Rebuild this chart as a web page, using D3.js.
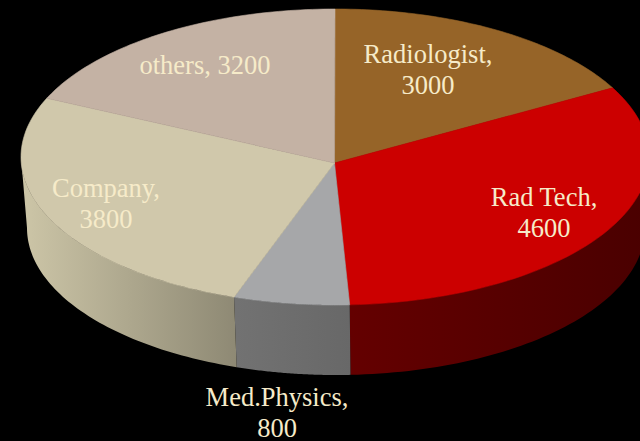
<!DOCTYPE html>
<html><head><meta charset="utf-8">
<script src="https://cdn.jsdelivr.net/npm/d3@7"></script>
<style>html,body{margin:0;background:#000;overflow:hidden}svg{display:block}</style>
</head><body><div id="c"></div>
<script>
const categories = ["Radiologist","Rad Tech","Med.Physics","Company","others"];
const values = [3000,4600,800,3800,3200];
const topColors = ["#966428","#CC0000","#A6A7A9","#D0C8AB","#C4B2A4"];
const wallStops = [["#6b4a20","#6b4a20"],["#640000","#4a0000"],["#727272","#686868"],["#cbc4a6","#8e8974"],["#c4b2a4","#c4b2a4"]];
const labelLines = [["Radiologist,","3000"],["Rad Tech,","4600"],["Med.Physics,","800"],["Company,","3800"],["others, 3200"]];
const labelAnchors = [[428,70],[544,213],[277,413],[106,204],[205,66]];

const W=640,H=441;
const top_={cx:335,cy:157,rx:314,ry:148}, bot={cx:336,cy:228,rx:309,ry:147};
const apex=[334.5,163], ecc=0.148;
const warp=t=>t-ecc*Math.sin(t);
const pt=(e,phi)=>[e.cx+e.rx*Math.sin(phi),e.cy-e.ry*Math.cos(phi)];

const svg=d3.select("#c").append("svg").attr("width",W).attr("height",H);
svg.append("rect").attr("width",W).attr("height",H).attr("fill","#000");
const defs=svg.append("defs");
const pie=d3.pie().sort(null)(values);
const line=d3.line();
const arcPts=(e,a,b)=>d3.range(0,65).map(i=>pt(e,a+(b-a)*i/64));

// side wall
pie.forEach((d,i)=>{
  const a=Math.max(warp(d.startAngle),Math.PI/2), b=Math.min(warp(d.endAngle),Math.PI*3/2);
  if(b<=a) return;
  const top=arcPts(top_,a,b), bt=arcPts(bot,a,b).reverse();
  const g=defs.append("linearGradient").attr("id","w"+i).attr("gradientUnits","userSpaceOnUse")
    .attr("x1",bot.cx+bot.rx*Math.sin(b)).attr("x2",bot.cx+bot.rx*Math.sin(a)).attr("y1",0).attr("y2",0);
  g.append("stop").attr("offset",0).attr("stop-color",wallStops[i][0]);
  g.append("stop").attr("offset",1).attr("stop-color",wallStops[i][1]);
  svg.append("path").attr("d",line(top.concat(bt))+"Z").attr("fill",`url(#w${i})`);
});
// top face
pie.forEach((d,i)=>{
  const pts=[apex].concat(arcPts(top_,warp(d.startAngle),warp(d.endAngle)));
  svg.append("path").attr("d",line(pts)+"Z").attr("fill",topColors[i]).attr("stroke",topColors[i]).attr("stroke-width",0.6).attr("stroke-linejoin","round");
});
// labels
labelLines.forEach((ls,i)=>{
  const t=svg.append("text").attr("text-anchor","middle").attr("fill","#F6EBC9")
    .attr("font-family","'Liberation Serif','Times New Roman',serif").attr("font-size",26.5);
  const y0=labelAnchors[i][1]-(ls.length-1)*15+8;
  ls.forEach((s,j)=>t.append("tspan").attr("x",labelAnchors[i][0]).attr("y",y0+j*30.5).text(s));
});
</script></body></html>
